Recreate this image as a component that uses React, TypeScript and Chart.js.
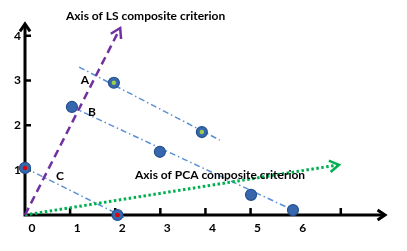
import React, { useEffect, useRef } from "react";
import { Chart, registerables } from "chart.js";

Chart.register(...registerables);

// ---- data ----
const xTickValues = [0, 1, 2, 3, 4, 5, 6, 7];
const xTickLabels = ["0", "1", "2", "3", "4", "5", "6", ""];
const yTickValues = [0, 1, 2, 3, 4];
const yTickLabels = ["", "1", "2", "3", "4"];

const pointsX = [0, 2.05, 1.97, 1.04, 3.92, 2.99, 5.01, 5.94];
const pointsY = [1.05, 0, 2.95, 2.41, 1.85, 1.41, 0.45, 0.11];
const pointCenters = ["red", "red", "green", "none", "green", "none", "none", "none"];

const lineAX = [1.2, 4.32];
const lineAY = [3.3, 1.67];
const lineBX = [1.04, 5.94];
const lineBY = [2.41, 0.11];
const lineCX = [0, 2.2];
const lineCY = [1.05, -0.05];

const lsAxisX = [0, 2.11];
const lsAxisY = [0, 4.17];
const pcaAxisX = [0, 6.96];
const pcaAxisY = [0, 1.12];

const X_MAX = 7.98;
const Y_MAX = 4.26;

const FONT = "Lato, 'Open Sans', sans-serif";

const toPts = (xs: number[], ys: number[]) => xs.map((x, i) => ({ x, y: ys[i] }));

function chevron(ctx: CanvasRenderingContext2D, tipX: number, tipY: number, angle: number, len: number, spread: number) {
  ctx.beginPath();
  ctx.moveTo(tipX - len * Math.cos(angle - spread), tipY - len * Math.sin(angle - spread));
  ctx.lineTo(tipX, tipY);
  ctx.lineTo(tipX - len * Math.cos(angle + spread), tipY - len * Math.sin(angle + spread));
  ctx.stroke();
}

const decorPlugin = {
  id: "decor",
  beforeDraw(chart: any) {
    const ctx = chart.ctx;
    ctx.save();
    ctx.fillStyle = "#ffffff";
    ctx.fillRect(0, 0, chart.width, chart.height);
    ctx.restore();
  },
  beforeDatasetsDraw(chart: any) {
    const ctx: CanvasRenderingContext2D = chart.ctx;
    const xs = chart.scales.x;
    const ys = chart.scales.y;
    const x0 = xs.getPixelForValue(0);
    const y0 = ys.getPixelForValue(0);
    const xEnd = xs.getPixelForValue(X_MAX);
    const yTop = ys.getPixelForValue(Y_MAX);
    ctx.save();
    ctx.strokeStyle = "#000";
    ctx.lineWidth = 3;
    ctx.lineCap = "butt";
    ctx.beginPath();
    ctx.moveTo(x0 - 1.5, y0);
    ctx.lineTo(xEnd - 2, y0);
    ctx.moveTo(x0, y0 + 1.5);
    ctx.lineTo(x0, yTop + 2);
    ctx.stroke();
    ctx.lineJoin = "miter";
    chevron(ctx, xEnd, y0, 0, 9, 0.6);
    chevron(ctx, x0, yTop, -Math.PI / 2, 9, 0.6);
    // tick marks
    ctx.lineWidth = 2.5;
    ctx.beginPath();
    xTickValues.forEach((v) => {
      if (v === 0) return;
      const px = xs.getPixelForValue(v);
      ctx.moveTo(px, y0);
      ctx.lineTo(px, y0 - 7);
    });
    yTickValues.forEach((v) => {
      if (v === 0) return;
      const py = ys.getPixelForValue(v);
      ctx.moveTo(x0, py);
      ctx.lineTo(x0 + 6, py);
    });
    ctx.stroke();
    ctx.restore();
  },
  afterDatasetsDraw(chart: any) {
    const ctx: CanvasRenderingContext2D = chart.ctx;
    const xs = chart.scales.x;
    const ys = chart.scales.y;
    ctx.save();
    // arrowheads on composite axes
    const arrow = (xArr: number[], yArr: number[], color: string, w: number, len: number) => {
      const tx = xs.getPixelForValue(xArr[1]);
      const ty = ys.getPixelForValue(yArr[1]);
      const fx = xs.getPixelForValue(xArr[0]);
      const fy = ys.getPixelForValue(yArr[0]);
      const ang = Math.atan2(ty - fy, tx - fx);
      ctx.strokeStyle = color;
      ctx.lineWidth = w;
      ctx.setLineDash([]);
      chevron(ctx, tx, ty, ang, len, 0.55);
    };
    arrow(lsAxisX, lsAxisY, "#7030a0", 2.5, 11);
    arrow(pcaAxisX, pcaAxisY, "#00b050", 2.5, 11);

    // texts
    ctx.fillStyle = "#000";
    ctx.textBaseline = "middle";
    ctx.textAlign = "left";
    ctx.font = `bold 12px ${FONT}`;
    ctx.fillText("Axis of LS composite criterion", 66, 16, 167);
    ctx.fillText("Axis of PCA composite criterion", 135, 175, 178);
    ctx.textAlign = "center";
    ctx.fillText("A", 85, 80);
    ctx.fillText("B", 92, 112);
    ctx.fillText("C", 60, 176);
    ctx.restore();
  },
};

export default function App() {
  const ref = useRef<HTMLCanvasElement | null>(null);
  useEffect(() => {
    if (!ref.current) return;
    const centerColors = pointCenters.map((c) => (c === "red" ? "#e00000" : c === "green" ? "#9ccf45" : "rgba(0,0,0,0)"));
    const dashBlue = {
      type: "line" as const,
      borderColor: "#5b8fd6",
      borderWidth: 1.5,
      borderDash: [6, 3, 1.5, 3],
      pointRadius: 0,
      fill: false,
      showLine: true,
      clip: false,
      order: 3,
    };
    const chart = new Chart(ref.current, {
      type: "scatter",
      data: {
        datasets: [
          {
            label: "centers",
            data: toPts(pointsX, pointsY),
            pointRadius: 2.2,
            pointBackgroundColor: centerColors,
            pointBorderWidth: 0,
            pointBorderColor: "rgba(0,0,0,0)",
            clip: false,
            order: 0,
          } as any,
          {
            label: "points",
            data: toPts(pointsX, pointsY),
            pointRadius: 5.5,
            pointBackgroundColor: "#3767ad",
            pointBorderColor: "#24508f",
            pointBorderWidth: 1.2,
            clip: false,
            order: 1,
          } as any,
          { label: "A", data: toPts(lineAX, lineAY), ...dashBlue } as any,
          { label: "B", data: toPts(lineBX, lineBY), ...dashBlue } as any,
          { label: "C", data: toPts(lineCX, lineCY), ...dashBlue } as any,
          {
            label: "LS axis",
            type: "line",
            data: toPts(lsAxisX, lsAxisY),
            borderColor: "#7030a0",
            borderWidth: 2.5,
            borderDash: [8, 5],
            pointRadius: 0,
            showLine: true,
            clip: false,
            order: 2,
          } as any,
          {
            label: "PCA axis",
            type: "line",
            data: toPts(pcaAxisX, pcaAxisY),
            borderColor: "#00b050",
            borderWidth: 3,
            borderDash: [2.5, 2.5],
            pointRadius: 0,
            showLine: true,
            clip: false,
            order: 2,
          } as any,
        ],
      },
      options: {
        animation: false,
        responsive: false,
        devicePixelRatio: 1,
        layout: { padding: { top: 24, right: 22, left: 0, bottom: 0 } },
        plugins: { legend: { display: false }, tooltip: { enabled: false } },
        scales: {
          x: {
            type: "linear",
            min: 0,
            max: X_MAX,
            afterFit: (s: any) => {
              s.height = 36;
            },
            afterBuildTicks: (s: any) => {
              s.ticks = xTickValues.map((v) => ({ value: v }));
            },
            grid: { display: false, drawTicks: false },
            border: { display: false },
            ticks: {
              padding: 6,
              labelOffset: 7,
              maxRotation: 0,
              autoSkip: false,
              color: "#000",
              font: { family: FONT, size: 12, weight: "bold" },
              callback: (v: any) => {
                const i = xTickValues.indexOf(Number(v));
                return i >= 0 ? xTickLabels[i] : "";
              },
            },
          },
          y: {
            type: "linear",
            min: 0,
            max: Y_MAX,
            afterFit: (s: any) => {
              s.width = 25;
            },
            afterBuildTicks: (s: any) => {
              s.ticks = yTickValues.map((v) => ({ value: v }));
            },
            grid: { display: false, drawTicks: false },
            border: { display: false },
            ticks: {
              padding: 4,
              autoSkip: false,
              color: "#000",
              font: { family: FONT, size: 12, weight: "bold" },
              callback: (v: any) => {
                const i = yTickValues.indexOf(Number(v));
                return i >= 0 ? yTickLabels[i] : "";
              },
            },
          },
        },
      } as any,
      plugins: [decorPlugin],
    });
    return () => chart.destroy();
  }, []);
  return (
    <div style={{ position: "fixed", left: 0, top: 0, width: 407, height: 251, background: "#fff" }}>
      <canvas ref={ref} width={407} height={251} style={{ display: "block" }} />
    </div>
  );
}
